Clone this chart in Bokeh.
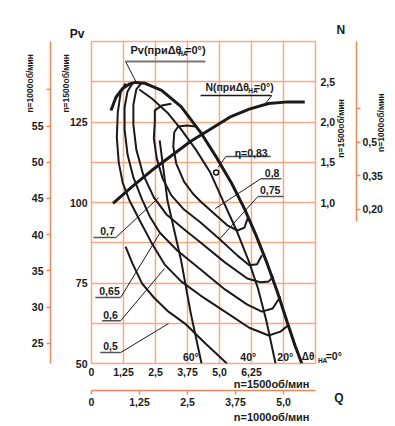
import math
from bokeh.plotting import figure
from bokeh.models import Range1d, LinearAxis, FixedTicker, Label
from bokeh.embed import file_html
from bokeh.resources import INLINE

# ---------------- data (Q, Pv at n=1500 rpm) ----------------
q_grid = [0, 1.25, 2.5, 3.75, 5.0, 6.25, 7.5, 8.75]
q_labels = {0: "0", 1.25: "1,25", 2.5: "2,5", 3.75: "3,75", 5.0: "5,0", 6.25: "6,25"}
pv_grid = [50, 62.5, 75, 87.5, 100, 112.5, 125, 137.5, 150]
pv_labels = [50, 75, 100, 125]
n_labels = {1.0: "1,0", 1.5: "1,5", 2.0: "2,0", 2.5: "2,5"}
pv1000_ticks = [25, 30, 35, 40, 45, 50, 55, 60]
q1000_labels = {0: "0", 1.25: "1,25", 2.5: "2,5", 3.75: "3,75", 5.0: "5,0"}
n1000_labels = {0.2: "0,20", 0.35: "0,35", 0.5: "0,5", 0.65: ""}

# Pressure curve, guide vanes at 0 deg (thick)
pv0_q = [0.761, 0.951, 1.217, 1.484, 1.712, 2.092, 2.739, 3.500, 4.261, 4.907, 5.478, 5.973, 6.429, 6.847, 7.265, 7.646, 7.950, 8.216]
pv0_p = [128.6, 132.6, 135.4, 136.8, 137.3, 137.0, 134.8, 129.8, 121.8, 113.7, 105.9, 98.1, 89.8, 81.4, 72.1, 62.8, 55.6, 50.0]

# Power curve N at 0 deg
n_q = [0.84, 1.60, 2.36, 3.12, 3.88, 4.64, 5.40, 6.16, 6.92, 7.68, 8.33]
n_v = [0.99, 1.20, 1.40, 1.58, 1.76, 1.91, 2.06, 2.16, 2.23, 2.25, 2.25]

# Guide-vane curves
pv20_q = [1.864, 2.358, 2.967, 3.500, 4.070, 4.641, 5.135, 5.668, 6.162, 6.504, 6.847, 7.189]
pv20_p = [135.1, 132.3, 127.9, 122.7, 116.5, 109.3, 100.6, 91.3, 81.4, 73.3, 62.7, 50.0]
pv60_q = [2.663, 2.815, 2.967, 3.233, 3.500, 3.880, 4.298]
pv60_p = [119.3, 110.0, 100.6, 91.3, 82.0, 65.5, 50.0]

# Efficiency contours
eta80_q = [4.070, 3.728, 3.386, 3.233, 3.195, 3.310, 3.614, 3.956, 4.261, 4.831, 5.325, 5.706, 5.973, 6.125]
eta80_p = [123.6, 123.9, 123.6, 121.8, 117.4, 112.1, 106.5, 102.8, 100.3, 96.3, 92.8, 91.3, 92.2, 95.6]
eta75_q = [3.119, 2.739, 2.473, 2.473, 2.435, 2.549, 2.777, 3.119, 3.614, 4.261, 5.021, 5.706, 6.163, 6.467, 6.657]
eta75_p = [130.7, 130.1, 128.6, 125.2, 119.9, 113.7, 107.5, 102.2, 97.8, 93.8, 88.5, 83.5, 80.5, 80.8, 83.6]
eta70_q = [1.940, 1.750, 1.636, 1.636, 1.750, 2.016, 2.435, 2.929, 3.576, 4.261, 5.211, 6.087, 6.619, 6.923, 7.113]
eta70_p = [137.0, 135.1, 130.4, 124.2, 116.5, 108.7, 101.6, 96.3, 91.9, 87.6, 81.4, 76.4, 75.2, 75.5, 77.0]
eta65_q = [1.598, 1.408, 1.293, 1.293, 1.408, 1.636, 1.978, 2.282, 2.663, 3.348, 4.261, 5.211, 6.087, 6.657, 7.076, 7.380]
eta65_p = [137.0, 134.5, 129.5, 122.7, 114.9, 107.8, 100.9, 95.6, 90.7, 85.1, 79.2, 73.0, 68.3, 66.1, 67.1, 70.8]
eta60_q = [1.331, 1.141, 1.027, 0.989, 1.065, 1.217, 1.484, 1.864, 2.358, 2.853, 3.500, 4.261, 5.211, 6.163, 6.923, 7.380, 7.722]
eta60_p = [137.0, 134.2, 128.0, 120.2, 112.4, 106.2, 100.6, 94.7, 87.3, 80.8, 75.5, 71.1, 66.1, 61.1, 58.7, 59.9, 62.1]
eta50_q = [1.331, 1.598, 1.978, 2.435, 3.005, 3.652, 4.451, 5.288]
eta50_p = [86.3, 81.1, 74.8, 70.5, 66.1, 62.4, 56.2, 50.0]
eta83_q = [4.869]
eta83_p = [109.3]

# ---------------- styling ----------------
GRID = "#F7A985"
AXIS = "#EE875A"
INK = "#1a1a1a"
FONT = "Liberation Sans"

p = figure(width=395, height=426, x_range=Range1d(0, 8.75), y_range=Range1d(50, 150),
           output_backend="svg", toolbar_location=None,
           min_border_left=88, min_border_right=77, min_border_top=41, min_border_bottom=63)
p.background_fill_color = "white"
p.border_fill_color = "white"
p.outline_line_color = GRID
p.outline_line_width = 1.5

p.extra_y_ranges = {"N": Range1d(-1.0, 3.0),
                    "pv1000": Range1d(50 * 4 / 9, 150 * 4 / 9),
                    "n1000": Range1d(-0.486, 0.948)}
p.extra_x_ranges = {"q1000": Range1d(0, 8.75 * 2 / 3)}

p.xgrid.ticker = FixedTicker(ticks=q_grid)
p.ygrid.ticker = FixedTicker(ticks=pv_grid)
for g in (p.xgrid, p.ygrid):
    g.grid_line_color = GRID
    g.grid_line_width = 1.5


def style_axis(ax, line=False, ticks=False, size="10.5px"):
    ax.major_label_text_font = FONT
    ax.major_label_text_font_style = "bold"
    ax.major_label_text_font_size = size
    ax.major_label_text_color = INK
    ax.minor_tick_line_color = None
    ax.minor_tick_out = 0
    ax.minor_tick_in = 0
    ax.axis_line_color = AXIS if line else None
    ax.axis_line_width = 1.5
    if ticks:
        ax.major_tick_line_color = AXIS
        ax.major_tick_line_width = 1.5
        ax.major_tick_out = 4
        ax.major_tick_in = 0
    else:
        ax.major_tick_line_color = None
        ax.major_tick_out = 0
        ax.major_tick_in = 0


xa = p.xaxis[0]
xa.ticker = FixedTicker(ticks=list(q_labels.keys()))
xa.major_label_overrides = q_labels
style_axis(xa)
xa.major_label_standoff = 4

xa2 = LinearAxis(x_range_name="q1000", ticker=FixedTicker(ticks=list(q1000_labels.keys())),
                 major_label_overrides=q1000_labels)
style_axis(xa2, line=True, ticks=True)
xa2.major_label_standoff = 3

ya = p.yaxis[0]
ya.ticker = FixedTicker(ticks=pv_labels)
style_axis(ya)
ya.major_label_standoff = 4

ya2 = LinearAxis(y_range_name="pv1000", ticker=FixedTicker(ticks=pv1000_ticks),
                 major_label_overrides={60: ""})
style_axis(ya2, line=True, ticks=True)
ya2.major_label_standoff = 3

ra = LinearAxis(y_range_name="N", ticker=FixedTicker(ticks=list(n_labels.keys())),
                major_label_overrides=n_labels)
style_axis(ra)
ra.major_label_standoff = 5

ra2 = LinearAxis(y_range_name="n1000", ticker=FixedTicker(ticks=list(n1000_labels.keys())),
                 major_label_overrides=n1000_labels, bounds=(0.147, 0.948))
style_axis(ra2, line=True, ticks=True)
ra2.major_label_standoff = 2

# ---------------- curves ----------------
for qs, ps in [(eta80_q, eta80_p), (eta75_q, eta75_p), (eta70_q, eta70_p),
               (eta65_q, eta65_p), (eta60_q, eta60_p), (eta50_q, eta50_p),
               (pv20_q, pv20_p), (pv60_q, pv60_p)]:
    p.line(qs, ps, line_color=INK, line_width=2)
p.line(pv0_q, pv0_p, line_color=INK, line_width=3)
p.line(n_q, n_v, line_color=INK, line_width=3, y_range_name="N")
p.scatter(eta83_q, eta83_p, size=5, marker="circle", fill_color="white",
          line_color=INK, line_width=1.5)

under = [((1.331, 4.450), (143.8, 143.8), "#777777", 2),
         ((1.331, 1.750), (143.8, 137.3), INK, 1),
         ((4.260, 7.037), (133.2, 133.2), INK, 1.5),
         ((7.037, 6.733), (133.2, 130.1), INK, 1),
         ((5.249, 6.999), (114.3, 114.3), "#555555", 1.5),
         ((5.249, 4.945), (114.3, 110.9), INK, 1),
         ((6.619, 7.417), (107.4, 107.4), "#555555", 1.5),
         ((6.619, 4.831), (107.4, 98.1), INK, 1),
         ((6.504, 7.493), (101.9, 101.9), "#555555", 1.5),
         ((6.504, 5.021), (101.9, 88.8), INK, 1),
         ((0.076, 0.951), (89.1, 89.1), "#555555", 1.5),
         ((0.951, 2.625), (89.1, 101.5), INK, 1),
         ((0.152, 1.141), (70.5, 70.5), "#555555", 1.5),
         ((1.141, 2.663), (70.5, 90.4), INK, 1),
         ((0.418, 1.141), (63.3, 63.3), "#555555", 1.5),
         ((1.141, 2.853), (63.3, 79.5), INK, 1),
         ((0.342, 1.141), (53.4, 53.4), "#555555", 1.5),
         ((1.141, 3.005), (53.4, 62.4), INK, 1)]
for xs, ys, c, w in under:
    p.line(list(xs), list(ys), line_color=c, line_width=w)


# ---------------- texts ----------------
def mk(x, y, t, size="10.5px", align="left", angle=0.0, pad=0):
    return Label(x=x, y=y, text=t, text_font=FONT, text_font_style="bold",
                 text_font_size=size, text_color=INK, text_align=align,
                 text_baseline="middle", angle=angle, padding=pad)


def lab(*a, **k):
    p.add_layout(mk(*a, **k))


lab(1.521, 147.5, "Pv(приΔθ", "11px")
lab(3.385, 146.3, "НА", "6.5px")
lab(3.652, 147.5, "=0°)", "11px")
lab(4.450, 136.0, "N(приΔθ", "10.5px")
lab(6.125, 134.9, "НА", "6.5px")
lab(6.352, 136.0, "=0°)", "10.5px")
lab(5.591, 115.5, "η=0,83")
lab(6.771, 109.3, "0,8")
lab(6.581, 104.0, "0,75")
lab(0.342, 91.3, "0,7")
lab(0.304, 72.4, "0,65")
lab(0.456, 65.2, "0,6")
lab(0.456, 55.3, "0,5")
lab(3.880, 51.9, "60°", "10.5px", "center")
lab(6.124, 51.9, "40°", "10.5px", "center")
lab(7.569, 51.9, "20°", "10.5px", "center")
lab(8.216, 52.2, "Δθ", "10px")

R = math.pi / 2
t_pv = mk(-0.848, 152.3, "Pv", "12px")
t_sub = mk(8.844, 51.0, "НА", "6.5px")
t_eq = mk(9.148, 52.2, "=0°", "10.5px")
t_n = mk(9.737, 153.7, "N", "12px", "center")
t_q = mk(9.661, 39.4, "Q", "12px", "center")
t_b1500 = mk(7.037, 43.5, "n=1500об/мин", "11px", "center")
t_b1000 = mk(7.037, 33.5, "n=1000об/мин", "11px", "center")
t_l1000 = mk(-2.396, 137.0, "n=1000об/мин", "8.5px", "center", R)
t_l1500 = mk(-0.989, 137.0, "n=1500об/мин", "8.5px", "center", R, pad=3)
t_r1500 = mk(9.737, 123.0, "n=1500об/мин", "8.5px", "center", R, pad=4)
t_r1000 = mk(11.297, 124.8, "n=1000об/мин", "8.5px", "center", R)

p.below = [xa, t_b1500, xa2, t_b1000]
p.left = [ya, t_l1500, ya2, t_l1000, t_q, t_n]
p.right = [ra, t_r1500, ra2, t_r1000]
p.above = [t_pv, t_sub, t_eq]

open("out.html", "w").write(file_html(p, INLINE))
